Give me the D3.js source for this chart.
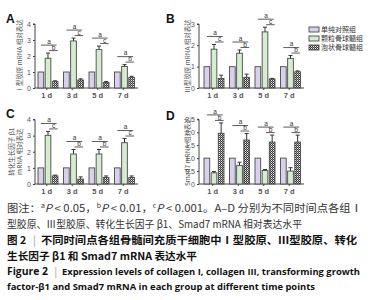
<!DOCTYPE html>
<html><head><meta charset="utf-8">
<script src="https://cdn.jsdelivr.net/npm/d3@7"></script>
<style>body{margin:0;background:#fff}svg{display:block}</style>
</head><body>
<svg id="c" width="371" height="300"></svg>
<script>
const categories = ["1 d","3 d","5 d","7 d"];
const groups = ["单纯对照组","颗粒骨球髓组","泡状骨球髓组"];

// Panel A: collagen I
const aControl = [1,1,1,1];
const aGranule = [1.86,2.94,2.40,1.35];
const aGranuleErr = [0.32,0.18,0.22,0.11];
const aVesicle = [0.40,0.50,0.35,0.65];
const aVesicleErr = [0.05,0.07,0.05,0.08];
const aSig = ["b","c","c","b"];

// Panel B: collagen III
const bControl = [1,1,1,1];
const bGranule = [1.82,1.63,2.63,1.39];
const bGranuleErr = [0.22,0.15,0.22,0.13];
const bVesicle = [0.45,0.50,0.42,0.76];
const bVesicleErr = [0.15,0.15,0.03,0.04];
const bSig = ["c","b","c","b"];

// Panel C: TGF-beta1
const cControl = [1,1,1,1];
const cGranule = [3.02,1.86,1.86,2.56];
const cGranuleErr = [0.24,0.28,0.28,0.26];
const cVesicle = [0.50,0.30,0.40,0.40];
const cVesicleErr = [0.05,0.14,0.10,0.10];
const cSig = ["c","b","b","c"];

// Panel D: Smad7
const dControl = [1,1,1,1];
const dGranule = [0.43,0.72,0.52,0.50];
const dGranuleErr = [0.05,0.12,0.04,0.13];
const dVesicle = [1.96,1.70,1.62,1.62];
const dVesicleErr = [0.40,0.25,0.27,0.27];
const dSig = ["b","b","b","b"];

const yTicksA = [0,1,2,3,4];
const yTicksB = [0,1,2,3];
const yTicksC = [0,1,2,3,4];
const yTicksD = [0,0.5,1.0,1.5,2.0,2.5];

const svg = d3.select("#c");
const defs = svg.append("defs");
const pat = defs.append("pattern").attr("id","chk").attr("width",2).attr("height",2).attr("patternUnits","userSpaceOnUse");
pat.append("rect").attr("width",2).attr("height",2).attr("fill","#3a3a3a");
pat.append("rect").attr("x",1).attr("width",1).attr("height",1).attr("fill","#f2f2f2");
pat.append("rect").attr("y",1).attr("width",1).attr("height",1).attr("fill","#9a9a9a");

const fills = ["#d9d1ec","#d6ecd0","url(#chk)"];
const stroke = "#4a4a4a";
const axisColor = "#444";
const font = "'Noto Sans CJK SC','Noto Sans',sans-serif";

function panel(cfg){
  const g = svg.append("g");
  const y = d3.scaleLinear().domain([0, cfg.max]).range([cfg.yBottom, cfg.yTop]);
  const x = d3.scaleBand().domain(categories).range([cfg.bandStart, cfg.bandStart + 102]);
  const inner = d3.scaleBand().domain([0,1,2]).range([4, 24]).paddingInner(0.2);

  const yAxis = d3.axisLeft(y).tickValues(cfg.ticks).tickSize(2).tickPadding(2).tickFormat(cfg.fmt);
  const ya = g.append("g").attr("transform",`translate(${cfg.axisX},0)`).call(yAxis);
  ya.select(".domain").attr("stroke",axisColor).attr("d",`M-2,${cfg.yTop}H0V${cfg.yBottom}`);
  ya.selectAll(".tick line").attr("stroke",axisColor);
  ya.selectAll(".tick text").attr("font-size",7).attr("fill","#555").attr("font-family","'Liberation Sans',sans-serif");

  const xa = g.append("g").attr("transform",`translate(0,${cfg.yBottom})`)
    .call(d3.axisBottom(x).tickSize(2).tickPadding(3));
  xa.select(".domain").attr("stroke",axisColor).attr("d",`M${cfg.axisX},0H${cfg.bandStart+104}`);
  xa.selectAll(".tick line").attr("stroke",axisColor);
  xa.selectAll(".tick text").attr("font-size",7.5).attr("font-weight","bold").attr("fill","#555")
    .attr("font-family","'Liberation Sans',sans-serif");

  const series = [cfg.control, cfg.granule, cfg.vesicle];
  const errs = [null, cfg.granuleErr, cfg.vesicleErr];
  categories.forEach((cat, i) => {
    const x0 = x(cat);
    series.forEach((s, k) => {
      const bx = x0 + inner(k), bw = inner.bandwidth();
      g.append("rect").attr("x",bx).attr("y",y(s[i])).attr("width",bw)
        .attr("height",y(0)-y(s[i])).attr("fill",fills[k]).attr("stroke",stroke).attr("stroke-width",0.9);
      if (errs[k]) {
        const top = y(s[i] + errs[k][i]);
        const cx = bx + bw/2;
        g.append("line").attr("x1",cx).attr("x2",cx).attr("y1",y(s[i])).attr("y2",top).attr("stroke","#333").attr("stroke-width",1);
        g.append("line").attr("x1",cx-2).attr("x2",cx+2).attr("y1",top).attr("y2",top).attr("stroke","#333").attr("stroke-width",1);
      }
    });
    const maxTop = d3.min([1,2].map(k => y(series[k][i] + errs[k][i])));
    const pC = x0 + inner(0) + inner.bandwidth()/2;
    const gC = x0 + inner(1) + inner.bandwidth()/2;
    const vC = x0 + inner(2) + inner.bandwidth()/2;
    const shortY = maxTop - 2.5, longY = maxTop - 8;
    g.append("line").attr("x1",pC).attr("x2",vC+1.5).attr("y1",longY).attr("y2",longY).attr("stroke","#333").attr("stroke-width",0.8);
    g.append("line").attr("x1",gC+1).attr("x2",vC+2.5).attr("y1",shortY).attr("y2",shortY).attr("stroke","#333").attr("stroke-width",0.8);
    g.append("text").attr("x",(pC+vC)/2+1).attr("y",longY-1.2).attr("text-anchor","middle")
      .attr("font-size",6.5).attr("fill","#333").attr("font-family","'Liberation Sans',sans-serif").text("a");
    g.append("text").attr("x",(gC+vC)/2+2).attr("y",shortY-0.8).attr("text-anchor","middle")
      .attr("font-size",6.5).attr("fill","#333").attr("font-family","'Liberation Sans',sans-serif").text(cfg.sig[i]);
  });

  g.append("text").attr("x",cfg.letterX).attr("y",cfg.letterY).attr("font-size",12).attr("font-weight","bold")
    .attr("font-family","'Liberation Sans',sans-serif").attr("fill","#111").text(cfg.letter);

  const midY = (cfg.yTop + cfg.yBottom)/2;
  cfg.title.forEach((t, j) => {
    g.append("text").attr("transform",`translate(${cfg.titleX + j*8},${midY}) rotate(-90)`)
      .attr("text-anchor","middle").attr("font-size",6.5).attr("fill","#555").attr("font-family",font).text(t);
  });
}

panel({letter:"A", letterX:6, letterY:23, axisX:35, bandStart:34, yTop:24, yBottom:88, max:4, ticks:yTicksA, fmt:d3.format("d"),
  control:aControl, granule:aGranule, granuleErr:aGranuleErr, vesicle:aVesicle, vesicleErr:aVesicleErr, sig:aSig,
  title:["Ⅰ型胶原 mRNA 相对表达"], titleX:22});
panel({letter:"B", letterX:166, letterY:23, axisX:199, bandStart:200, yTop:24, yBottom:88, max:3, ticks:yTicksB, fmt:d3.format("d"),
  control:bControl, granule:bGranule, granuleErr:bGranuleErr, vesicle:bVesicle, vesicleErr:bVesicleErr, sig:bSig,
  title:["Ⅲ型胶原 mRNA 相对表达"], titleX:190});
panel({letter:"C", letterX:6, letterY:118, axisX:35, bandStart:34, yTop:119.5, yBottom:184, max:4, ticks:yTicksC, fmt:d3.format("d"),
  control:cControl, granule:cGranule, granuleErr:cGranuleErr, vesicle:cVesicle, vesicleErr:cVesicleErr, sig:cSig,
  title:["转化生长因子 β1","mRNA 相对表达"], titleX:14});
panel({letter:"D", letterX:166, letterY:120, axisX:199, bandStart:200, yTop:119.3, yBottom:184, max:2.5, ticks:yTicksD,
  fmt:d => d === 0 ? "0" : d3.format(".1f")(d),
  control:dControl, granule:dGranule, granuleErr:dGranuleErr, vesicle:dVesicle, vesicleErr:dVesicleErr, sig:dSig,
  title:["Smad7 mRNA 相对表达"], titleX:190});

// legend
const leg = svg.append("g");
groups.forEach((name, k) => {
  const yy = 27 + k*9;
  leg.append("rect").attr("x",309).attr("y",yy).attr("width",10).attr("height",5)
    .attr("fill",fills[k]).attr("stroke",stroke).attr("stroke-width",0.9);
  leg.append("text").attr("x",321).attr("y",yy+5).attr("font-size",7).attr("fill","#333")
    .attr("font-family",font).text(name);
});

// caption
const cap = svg.append("g").attr("font-family",font);
const l1 = cap.append("text").attr("x",7).attr("y",211.5).attr("font-size",10.5).attr("fill","#333")
  .attr("textLength",355).attr("lengthAdjust","spacingAndGlyphs");
l1.append("tspan").text("图注：");
[["a","< 0.05，"],["b","< 0.01，"],["c","< 0.001。A–D 分别为不同时间点各组Ⅰ"]].forEach(([s,t]) => {
  l1.append("tspan").attr("font-size",6.5).attr("dy",-4).text(s);
  l1.append("tspan").attr("font-style","italic").attr("dy",4).text("P");
  l1.append("tspan").text(" " + t);
});
cap.append("text").attr("x",7).attr("y",228).attr("font-size",10.5).attr("fill","#333")
  .attr("textLength",295).attr("lengthAdjust","spacingAndGlyphs")
  .text("型胶原、Ⅲ型胶原、转化生长因子 β1、Smad7 mRNA 相对表达水平");
cap.append("text").attr("x",7).attr("y",244).attr("font-size",10.5).attr("fill","#111").attr("font-weight","bold").text("图 2");
cap.append("text").attr("x",33).attr("y",244).attr("font-size",10.5).attr("fill","#999").text("|");
cap.append("text").attr("x",41).attr("y",244).attr("font-size",10.5).attr("fill","#111").attr("font-weight","bold")
  .attr("textLength",316).attr("lengthAdjust","spacingAndGlyphs")
  .text("不同时间点各组骨髓间充质干细胞中Ⅰ型胶原、Ⅲ型胶原、转化");
cap.append("text").attr("x",7).attr("y",260).attr("font-size",10.5).attr("fill","#111").attr("font-weight","bold")
  .attr("textLength",190).attr("lengthAdjust","spacingAndGlyphs")
  .text("生长因子 β1 和 Smad7 mRNA 表达水平");
const en = "'Open Sans','Noto Sans',sans-serif";
svg.append("text").attr("x",7).attr("y",275).attr("font-size",10).attr("fill","#111")
  .attr("font-family",en).attr("font-weight","bold").attr("textLength",41).attr("lengthAdjust","spacingAndGlyphs").text("Figure 2");
svg.append("text").attr("x",53).attr("y",275).attr("font-size",10).attr("fill","#999")
  .attr("font-family",en).text("|");
svg.append("text").attr("x",62).attr("y",275).attr("font-size",9).attr("fill","#111")
  .attr("font-family",en).attr("font-weight","bold")
  .attr("textLength",298).attr("lengthAdjust","spacingAndGlyphs")
  .text("Expression levels of collagen I, collagen III, transforming growth");
svg.append("text").attr("x",7).attr("y",290).attr("font-size",9).attr("fill","#111")
  .attr("font-family",en).attr("font-weight","bold")
  .attr("textLength",308).attr("lengthAdjust","spacingAndGlyphs")
  .text("factor-β1 and Smad7 mRNA in each group at different time points");
</script>
</body></html>
